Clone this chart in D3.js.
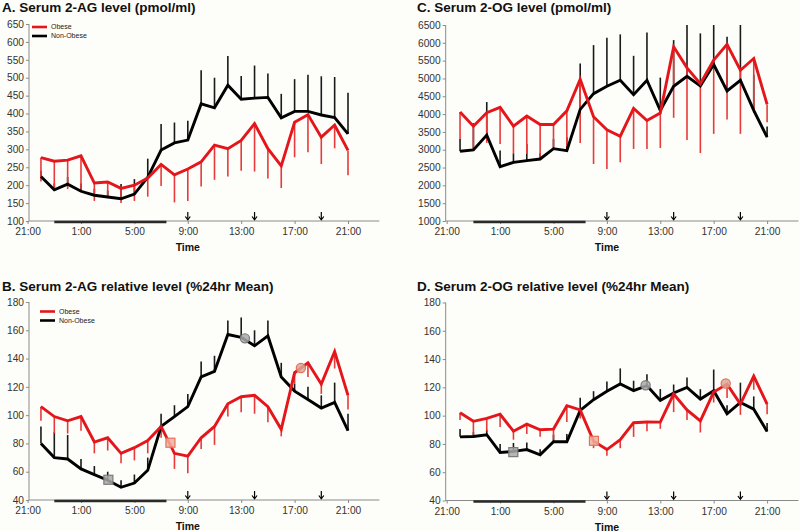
<!DOCTYPE html>
<html><head><meta charset="utf-8">
<script src="https://cdn.jsdelivr.net/npm/d3@7"></script>
<style>
body{margin:0;background:#fdfdf9}
svg{display:block}
text{font-family:Arial,"Liberation Sans",sans-serif}
</style>
</head><body>
<svg id="chart" width="800" height="531"></svg>
<script>
// ---------- DATA ----------
const times = ["22:00","23:00","0:00","1:00","2:00","3:00","4:00","5:00","6:00","7:00","8:00","9:00",
               "10:00","11:00","12:00","13:00","14:00","15:00","16:00","17:00","18:00","19:00","20:00","21:00"];
const xTickLabels = ["21:00","1:00","5:00","9:00","13:00","17:00","21:00"];
const mealTimes = ["9:00","14:00","19:00"];
const sleepPeriod = ["23:00","7:24"];
const seriesNames = ["Obese","Non-Obese"];

// A. Serum 2-AG level (pmol/ml)
const agObese    = [277,267,270,282,206,209,191,200,220,258,229,245,265,312,302,325,372,302,254,376,397,334,368,297];
const agObeseErr = [67,80,81,95,50,43,41,44,52,60,77,89,69,97,78,85,134,83,62,98,105,75,65,69];
const agNon      = [224,187,203,183,172,167,162,175,222,298,318,326,427,416,479,440,443,445,388,406,406,396,389,343];
const agNonErr   = [16,18,20,22,18,18,41,42,52,73,57,54,94,84,82,65,91,67,67,90,102,108,113,115];
const agTicks = [100,150,200,250,300,350,400,450,500,550,600,650];

// C. Serum 2-OG level (pmol/ml)
const ogObese    = [4056,3661,4037,4190,3661,3943,3708,3708,4090,4977,3925,3560,3379,4159,3821,4028,5889,5297,4855,5513,5955,5231,5560,4272];
const ogObeseErr = [752,639,846,1027,761,1062,940,639,1000,1786,1326,1102,733,1137,799,978,1993,2021,1946,2068,2106,1786,1523,498];
const ogNon      = [2956,2994,3410,2524,2646,2693,2740,3030,2975,4131,4573,4780,4949,4545,4949,4103,4780,5062,4789,5391,4648,4949,4103,3351];
const ogNonErr   = [348,752,928,451,254,470,160,270,375,1288,1363,1363,1288,1090,1344,921,1297,1600,1476,1300,1523,1700,1000,300];
const ogTicks = [1000,1500,2000,2500,3000,3500,4000,4500,5000,5500,6000,6500];

// B. Serum 2-AG relative level (%24hr Mean)
const agRelObese    = [106,99,96,99,81,84,73,77,82,92,73,71,84,92,108,113,114,106,90,130,137,122,145,114];
const agRelObeseErr = [10,12,9,10,8,9,7,9,9,8,11,12,8,13,9,11,13,11,5,8,10,7,12,10];
const agRelNon      = [80,70,69,62,58,54,49,52,61,92,99,106,127,131,157,155,149,156,127,117,111,105,109,89];
const agRelNonErr   = [12,18,17,7,6,6,5,6,9,9,8,9,11,11,10,14,11,11,10,5,9,9,14,12];
// nadir (square) and acrophase (circle) markers: [hour after 21:00, value]
const agRelObeseNadir = [10.7, 80.5];
const agRelObesePeak  = [20.47, 133.3];
const agRelNonNadir   = [6.05, 54.3];
const agRelNonPeak    = [16.28, 154.3];

// D. Serum 2-OG relative level (%24hr Mean)
const ogRelObese    = [102,96,98,101,89,94,90,90.5,107,104,82,76,83,95,95.5,95.4,115.3,104.1,96.3,116.7,122.3,108.2,128,108.2];
const ogRelObeseErr = [5,9.5,9,9,6,7,5,7.5,11.5,6,5,4.4,6,10,6.5,4.7,12.8,7.1,8.2,7.4,9.9,7.6,9.7,7.2];
const ogRelNon      = [85,85.3,86.5,74,74.7,76,72.3,81.5,81.5,103.7,111.3,117.2,122.4,117.7,121.2,110.8,116,120,111.7,117.6,101.3,109.3,104.6,88.8];
const ogRelNonErr   = [5.5,3,3.5,6,6,5,4,5,5.5,9,6,7,11,7,8,8,6,7,7,15,6,14,9,6];
const ogRelObeseNadir = [11.03, 82.2];
const ogRelObesePeak  = [20.9, 122.7];
const ogRelNonNadir   = [4.99, 74.2];
const ogRelNonPeak    = [14.9, 121.5];
const relTicks = [40,60,80,100,120,140,160,180];

// ---------- HELPERS ----------
function hourOffset(t, last) {
  const [hh, mm] = t.split(":").map(Number);
  let h = (hh + 3) % 24 + mm / 60;
  if (last && h === 0) h = 24;
  return h;
}
const dataHours = times.map(t => hourOffset(t, true));

const RED = "#e4161c", RED_BAR = "#e83a3a", BLACK = "#000";
const svg = d3.select("#chart");
svg.append("rect").attr("width",800).attr("height",531).attr("fill","#fdfdf9");

function panel(cfg) {
  const g = svg.append("g");
  const x = d3.scaleLinear().domain([0, 26.35]).range([cfg.x0, cfg.x0 + 26.35 * 13.35]);
  const y = d3.scaleLinear().domain(cfg.yDomain).range([cfg.yBot, cfg.yTop]);
  const ymax = cfg.yDomain[1];

  // title
  g.append("text").attr("x", cfg.titleX).attr("y", cfg.titleY)
    .attr("font-size", 13.5).attr("font-weight", "bold").attr("fill", "#111").text(cfg.title);

  // y axis
  const ya = g.append("g").attr("transform", `translate(${cfg.axisX},0)`)
    .call(d3.axisLeft(y).tickValues(cfg.yTicks).tickSize(3).tickPadding(2).tickFormat(d3.format("d")));
  ya.select(".domain").attr("stroke", "#8a8a8a").attr("d", `M0,${cfg.yTop}V${cfg.yBot}`);
  ya.selectAll(".tick line").attr("stroke", "#8a8a8a");
  ya.selectAll(".tick text").attr("font-size", 10.2).attr("fill", "#333").attr("font-family", "Arial, Liberation Sans, sans-serif");

  // x axis
  const xa = g.append("g").attr("transform", `translate(0,${cfg.yBot})`)
    .call(d3.axisBottom(x).tickValues([0,4,8,12,16,20,24]).tickSize(3).tickPadding(4)
      .tickFormat((d, i) => xTickLabels[i]));
  xa.select(".domain").attr("stroke", "#8a8a8a").attr("d", `M${cfg.axisX},0H${x(26.35)}`);
  xa.selectAll(".tick line").attr("stroke", "#8a8a8a");
  xa.selectAll(".tick text").attr("font-size", 10.2).attr("fill", "#333").attr("font-family", "Arial, Liberation Sans, sans-serif");

  g.append("text").attr("x", x(12)).attr("y", cfg.yBot + 30).attr("text-anchor", "middle")
    .attr("font-size", 10.5).attr("font-weight", "bold").attr("fill", "#111").text("Time");

  // sleep bar
  g.append("line").attr("x1", x(hourOffset(sleepPeriod[0]))).attr("x2", x(hourOffset(sleepPeriod[1])))
    .attr("y1", cfg.yBot + 1).attr("y2", cfg.yBot + 1).attr("stroke", "#2a2a2a").attr("stroke-width", 2.6);

  // meal arrows
  mealTimes.forEach(t => {
    const ax = x(hourOffset(t));
    g.append("line").attr("x1", ax).attr("x2", ax).attr("y1", cfg.yBot - 9).attr("y2", cfg.yBot - 1.5)
      .attr("stroke", "#000").attr("stroke-width", 1.2);
    g.append("path").attr("d", `M${ax - 2.5},${cfg.yBot - 4.5}L${ax},${cfg.yBot - 1.2}L${ax + 2.5},${cfg.yBot - 4.5}`)
      .attr("fill", "none").attr("stroke", "#000").attr("stroke-width", 1.2);
  });

  // error bars: Non-Obese upward, Obese downward
  g.append("g").selectAll("line").data(cfg.non).join("line")
    .attr("x1", (d, i) => x(dataHours[i])).attr("x2", (d, i) => x(dataHours[i]))
    .attr("y1", d => y(d)).attr("y2", (d, i) => y(Math.min(ymax, d + cfg.nonErr[i])))
    .attr("stroke", "#1a1a1a").attr("stroke-width", 1.6);
  g.append("g").selectAll("line").data(cfg.obese).join("line")
    .attr("x1", (d, i) => x(dataHours[i])).attr("x2", (d, i) => x(dataHours[i]))
    .attr("y1", d => y(d)).attr("y2", (d, i) => y(d - cfg.obeseErr[i]))
    .attr("stroke", RED_BAR).attr("stroke-width", 1.6);

  const line = d3.line().x((d, i) => x(dataHours[i])).y(d => y(d));
  g.append("path").datum(cfg.non).attr("d", line).attr("fill", "none")
    .attr("stroke", BLACK).attr("stroke-width", 2.9).attr("stroke-linejoin", "miter");
  g.append("path").datum(cfg.obese).attr("d", line).attr("fill", "none")
    .attr("stroke", RED).attr("stroke-width", 2.9).attr("stroke-linejoin", "miter");

  // markers
  if (cfg.markers) {
    const m = cfg.markers;
    const sq = (p, fill, stroke) => g.append("rect").attr("x", x(p[0]) - 4.5).attr("y", y(p[1]) - 4.5)
      .attr("width", 9).attr("height", 9).attr("fill", fill).attr("stroke", stroke).attr("stroke-width", 1.2).attr("fill-opacity", 0.85);
    const ci = (p, fill, stroke) => g.append("circle").attr("cx", x(p[0])).attr("cy", y(p[1])).attr("r", 4.6)
      .attr("fill", fill).attr("stroke", stroke).attr("stroke-width", 1.2).attr("fill-opacity", 0.85);
    sq(m.nonNadir, "#a9a9a9", "#7a7a7a");
    ci(m.nonPeak, "#a9a9a9", "#7a7a7a");
    sq(m.obNadir, "#eeb0a0", "#e8705a");
    ci(m.obPeak, "#d8a898", "#e8705a");
  }

  // legend
  if (cfg.legend) {
    const L = cfg.legend;
    [[RED, seriesNames[0]], [BLACK, seriesNames[1]]].forEach(([c, name], k) => {
      const ly = L.y + k * 9;
      g.append("line").attr("x1", L.x).attr("x2", L.x + 15).attr("y1", ly).attr("y2", ly)
        .attr("stroke", c).attr("stroke-width", 2.6);
      g.append("text").attr("x", L.x + 19).attr("y", ly + 2.4).attr("font-size", 7).attr("fill", "#222").text(name);
    });
  }
}

panel({title: "A. Serum 2-AG level (pmol/ml)", titleX: 2, titleY: 12,
  x0: 27.6, axisX: 29, yTop: 24, yBot: 221, yDomain: [100, 650], yTicks: agTicks,
  obese: agObese, obeseErr: agObeseErr, non: agNon, nonErr: agNonErr, legend: {x: 32, y: 27}});

panel({title: "C. Serum 2-OG level (pmol/ml)", titleX: 417, titleY: 12,
  x0: 446.7, axisX: 445.7, yTop: 25, yBot: 221, yDomain: [1000, 6500], yTicks: ogTicks,
  obese: ogObese, obeseErr: ogObeseErr, non: ogNon, nonErr: ogNonErr});

panel({title: "B. Serum 2-AG relative level (%24hr Mean)", titleX: 2, titleY: 291,
  x0: 27.6, axisX: 29, yTop: 302, yBot: 500, yDomain: [40, 180], yTicks: relTicks,
  obese: agRelObese, obeseErr: agRelObeseErr, non: agRelNon, nonErr: agRelNonErr,
  legend: {x: 40, y: 311.5},
  markers: {nonNadir: agRelNonNadir, nonPeak: agRelNonPeak, obNadir: agRelObeseNadir, obPeak: agRelObesePeak}});

panel({title: "D. Serum 2-OG relative level (%24hr Mean)", titleX: 417, titleY: 291,
  x0: 446.7, axisX: 445.7, yTop: 302.5, yBot: 500.5, yDomain: [40, 180], yTicks: relTicks,
  obese: ogRelObese, obeseErr: ogRelObeseErr, non: ogRelNon, nonErr: ogRelNonErr,
  markers: {nonNadir: ogRelNonNadir, nonPeak: ogRelNonPeak, obNadir: ogRelObeseNadir, obPeak: ogRelObesePeak}});
</script>
</body></html>
